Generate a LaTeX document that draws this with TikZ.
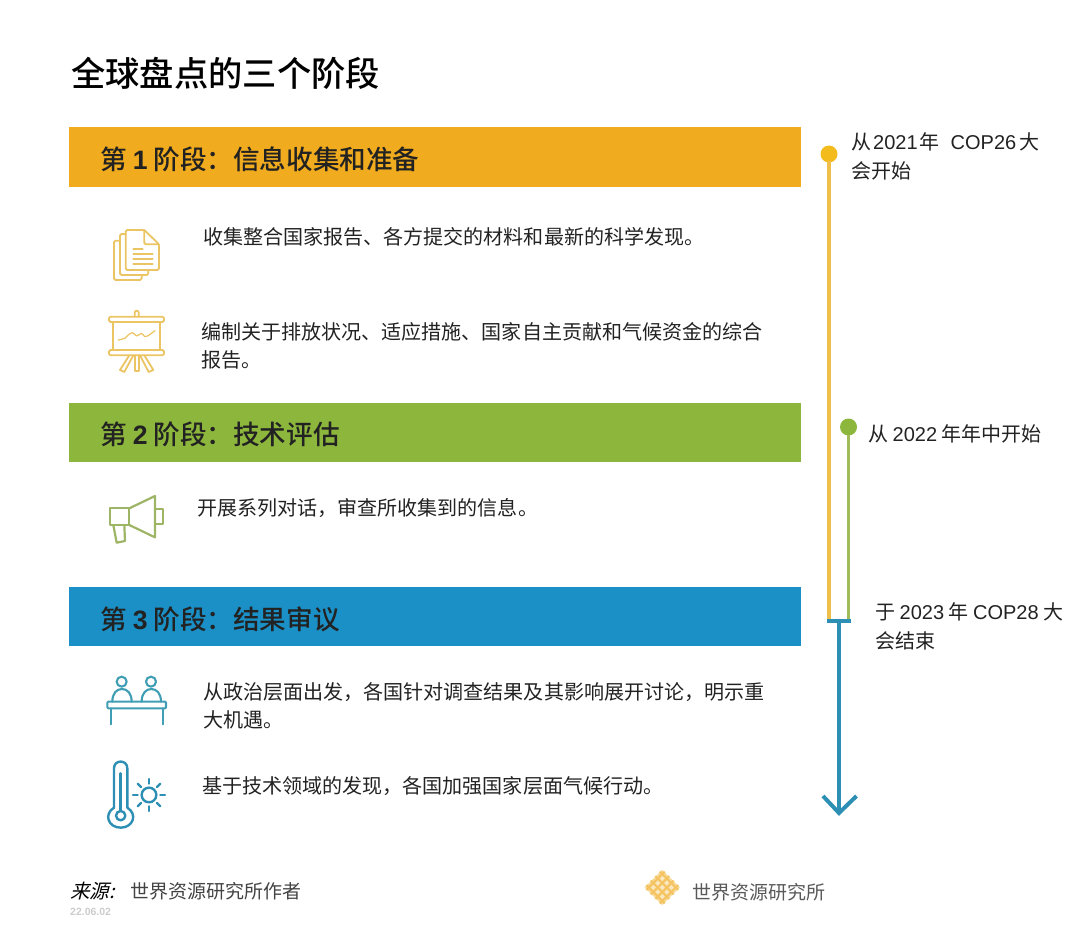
\documentclass[tikz,border=0pt]{standalone}
\usepackage{fontspec}
\newfontfamily\cjk{Noto Sans CJK SC}
\newfontfamily\cjkm{Noto Sans CJK SC Medium}
\newfontfamily\cjkit[FakeSlant=0.25]{Noto Sans CJK SC}
\newfontfamily\lat{Liberation Sans}
\definecolor{amberbar}{HTML}{F0AB1E}
\definecolor{greenbar}{HTML}{8CB63C}
\definecolor{bluebar}{HTML}{1B90C6}
\definecolor{amberline}{HTML}{F0BE4A}
\definecolor{amberdot}{HTML}{F3BB1C}
\definecolor{greenline}{HTML}{A0BC5A}
\definecolor{blueline}{HTML}{2E8FB4}
\definecolor{ambericon}{HTML}{EBC463}
\definecolor{greenicon}{HTML}{9DB565}
\definecolor{blueicon}{HTML}{3F9DB4}
\definecolor{ink}{HTML}{222222}
\tikzset{
  barbox/.style={anchor=north west,minimum width=732pt,inner sep=0pt},
  bartext/.style={anchor=west,inner sep=0pt,text=ink,font=\cjkm\fontsize{26.6}{30}\selectfont},
  bodytext/.style={anchor=west,inner sep=0pt,align=left,text=ink,font=\cjk\fontsize{20.05}{28}\selectfont},
  sidetext/.style={anchor=west,inner sep=0pt,align=left,text=ink,font=\cjk\fontsize{20}{29}\selectfont},
  foottext/.style={anchor=west,inner sep=0pt,text=ink!85,font=\cjk\fontsize{19}{23}\selectfont},
  timeline/.style={line width=3.8pt},
  icon/.style={line width=1.8pt,line join=round,line cap=round},
  zoomed/.style={x=0.3333pt,y=-0.3333pt},
  dotmark/.style={circle,inner sep=0pt,outer sep=0pt,minimum size=17pt}
}
\begin{document}
\begin{tikzpicture}[x=1pt,y=-1pt]
\useasboundingbox (0,0) rectangle (1080,947);
% title
\node[anchor=west,inner sep=0pt,text=black,font=\cjkm\fontsize{34.3}{40}\selectfont] (title) at (71,73) {全球盘点的三个阶段};
% bars
\node[barbox,fill=amberbar,minimum height=60pt] (bar1) at (69,127) {};
\node[barbox,fill=greenbar,minimum height=59pt] (bar2) at (69,403) {};
\node[barbox,fill=bluebar,minimum height=59pt] (bar3) at (69,587) {};
\node[bartext] (h1) at (100,159) {第 {\lat\bfseries 1} 阶段：信息收集和准备};
\node[bartext] (h2) at (100,434) {第 {\lat\bfseries 2} 阶段：技术评估};
\node[bartext] (h3) at (100,619) {第 {\lat\bfseries 3} 阶段：结果审议};
% body
\node[bodytext] (t1) at (203,237) {收集整合国家报告、各方提交的材料和最新的科学发现。};
\node[bodytext] (t2) at (201,346) {编制关于排放状况、适应措施、国家自主贡献和气候资金的综合\\报告。};
\node[bodytext] (t3) at (197,508) {开展系列对话，审查所收集到的信息。};
\node[bodytext] (t4) at (203,706) {从政治层面出发，各国针对调查结果及其影响展开讨论，明示重\\大机遇。};
\node[bodytext] (t5) at (202,786) {基于技术领域的发现，各国加强国家层面气候行动。};
% timeline
\node[dotmark,fill=amberdot] (d1) at (829,154) {};
\node[dotmark,fill=greenbar] (d2) at (848.5,427) {};
\coordinate (e1) at (829,621);
\coordinate (e2) at (848.5,621);
\coordinate (jn) at (839,621);
\coordinate (tip) at (839,813);
\coordinate (cl) at (823,796);
\coordinate (cr) at (856.5,796);
\draw[timeline,amberline,shorten <=-1pt] (d1) -- (e1);
\draw[timeline,greenline,shorten <=-1pt] (d2) -- (e2);
\draw[line width=3.6pt,blueline] (827,621) -- (851,621);
\draw[timeline,blueline] (jn) -- (tip);
\draw[line width=4pt,blueline,line join=miter] (cl) -- (tip) -- (cr);
\node[sidetext] (s1) at (851,156.5) {从\hspace{2pt}{\lat 2021}\hspace{2pt}年\hspace{11pt}{\lat COP26}\hspace{3pt}大\\会开始};
\node[sidetext] (s2) at (868,434) {从 {\lat 2022} 年年中开始};
\node[sidetext] (s3) at (875,626.5) {于 {\lat 2023} 年 {\lat COP28} 大\\会结束};
% icon: documents
\begin{scope}[shift={(90,210)},zoomed,icon,ambericon,rounded corners=1.5pt]
  \draw (107,60) -- (163,60) -- (207,103) -- (207,180) -- (107,180) -- cycle;
  \draw (163,60) -- (163,103) -- (207,103);
  \draw (130,118) -- (158,118) (130,133) -- (188,133) (130,148) -- (188,148) (130,163) -- (188,163);
  \draw (107,72) -- (90,72) -- (90,195) -- (175,195) -- (175,180);
  \draw (90,92) -- (72,92) -- (72,210) -- (155,210) -- (155,195);
\end{scope}
% icon: easel
\begin{scope}[shift={(90,210)},zoomed,icon,ambericon]
  \draw[rounded corners=1.5pt] (57,320) rectangle (222,336);
  \draw (134,320) -- (134,308) arc[start angle=180,end angle=0,x radius=6,y radius=-6] -- (146,320);
  \draw (68,336) rectangle (210,420);
  \draw[rounded corners=1.5pt] (57,420) rectangle (222,436);
  \draw[line width=1.2pt] (85,390) -- (105,385) -- (118,372) -- (128,368) -- (140,378) -- (155,370) -- (165,380) -- (175,377) -- (195,362);
  \draw (118,436) -- (90,480) -- (103,486) -- (130,436);
  \draw (134,436) -- (134,482) -- (146,482) -- (146,436);
  \draw (150,436) -- (176,486) -- (190,480) -- (163,436);
\end{scope}
% icon: megaphone
\begin{scope}[shift={(90,480)},zoomed,icon,greenicon,line width=2.2pt]
  \draw (60,85) rectangle (118,135);
  \draw (118,85) -- (195,48) -- (195,172) -- (118,135);
  \draw (195,88) -- (220,88) -- (220,132) -- (195,132);
  \draw (70,135) -- (80,188) -- (105,183) -- (103,135);
\end{scope}
% icon: people at table
\begin{scope}[shift={(90,665)},zoomed,icon,blueicon,line width=2.1pt]
  \draw (95,50) circle[radius=15];
  \draw (183,50) circle[radius=15];
  \draw (67,110) .. controls (67,85) and (80,72) .. (96,72) .. controls (112,72) and (125,85) .. (125,110);
  \draw (155,110) .. controls (155,85) and (168,72) .. (184,72) .. controls (200,72) and (213,85) .. (213,110);
  \draw[rounded corners=1pt] (52,110) rectangle (228,130);
  \draw (62,130) -- (62,178) (218,130) -- (218,178);
\end{scope}
% icon: thermometer and sun
\begin{scope}[shift={(90,665)},zoomed,icon,blueline,line width=2.4pt]
  \draw (72,428) -- (72,310) .. controls (72,283) and (112,283) .. (112,310) -- (112,428);
  \draw (72,428) .. controls (40,448) and (55,488) .. (92,488) .. controls (129,488) and (144,448) .. (112,428);
  \draw (92,452) circle[radius=14];
  \draw (92,325) -- (92,438);
  \draw (177,390) circle[radius=22];
  \foreach \a in {0,45,...,315} {\draw[line width=2.4pt] (177,390) ++(\a:34) -- ++(\a:14);}
\end{scope}
% footer
\node[foottext,font=\cjkit\fontsize{19.5}{23}\selectfont,text=black] (src) at (70,891) {来源:};
\node[foottext] (auth) at (130,891) {世界资源研究所作者};
\node[anchor=west,inner sep=0pt,text=black!20,font=\lat\bfseries\fontsize{10.5}{12}\selectfont] (date) at (70,912) {22.06.02};
\node[foottext,text=ink!75] (org) at (692,892) {世界资源研究所};
% logo
\begin{scope}[shift={(662.3,887.5)},rotate=45]
  \fill[amberline!55] (-12.5,-12.5) rectangle (12.5,12.5);
  \foreach \o in {-9.5,-3.2,3.2,9.5} {
    \draw[amberbar!70!white,line width=2pt] (\o,-13) -- (\o,13);
    \draw[amberbar!70!white,line width=2pt] (-13,\o) -- (13,\o);
  }
  \foreach \p in {-6.35,0,6.35} \foreach \q in {-6.35,0,6.35} {\fill[white!65!amberline] (\p-1.6,\q-1.6) rectangle (\p+1.6,\q+1.6);}
\end{scope}
\end{tikzpicture}
\end{document}
